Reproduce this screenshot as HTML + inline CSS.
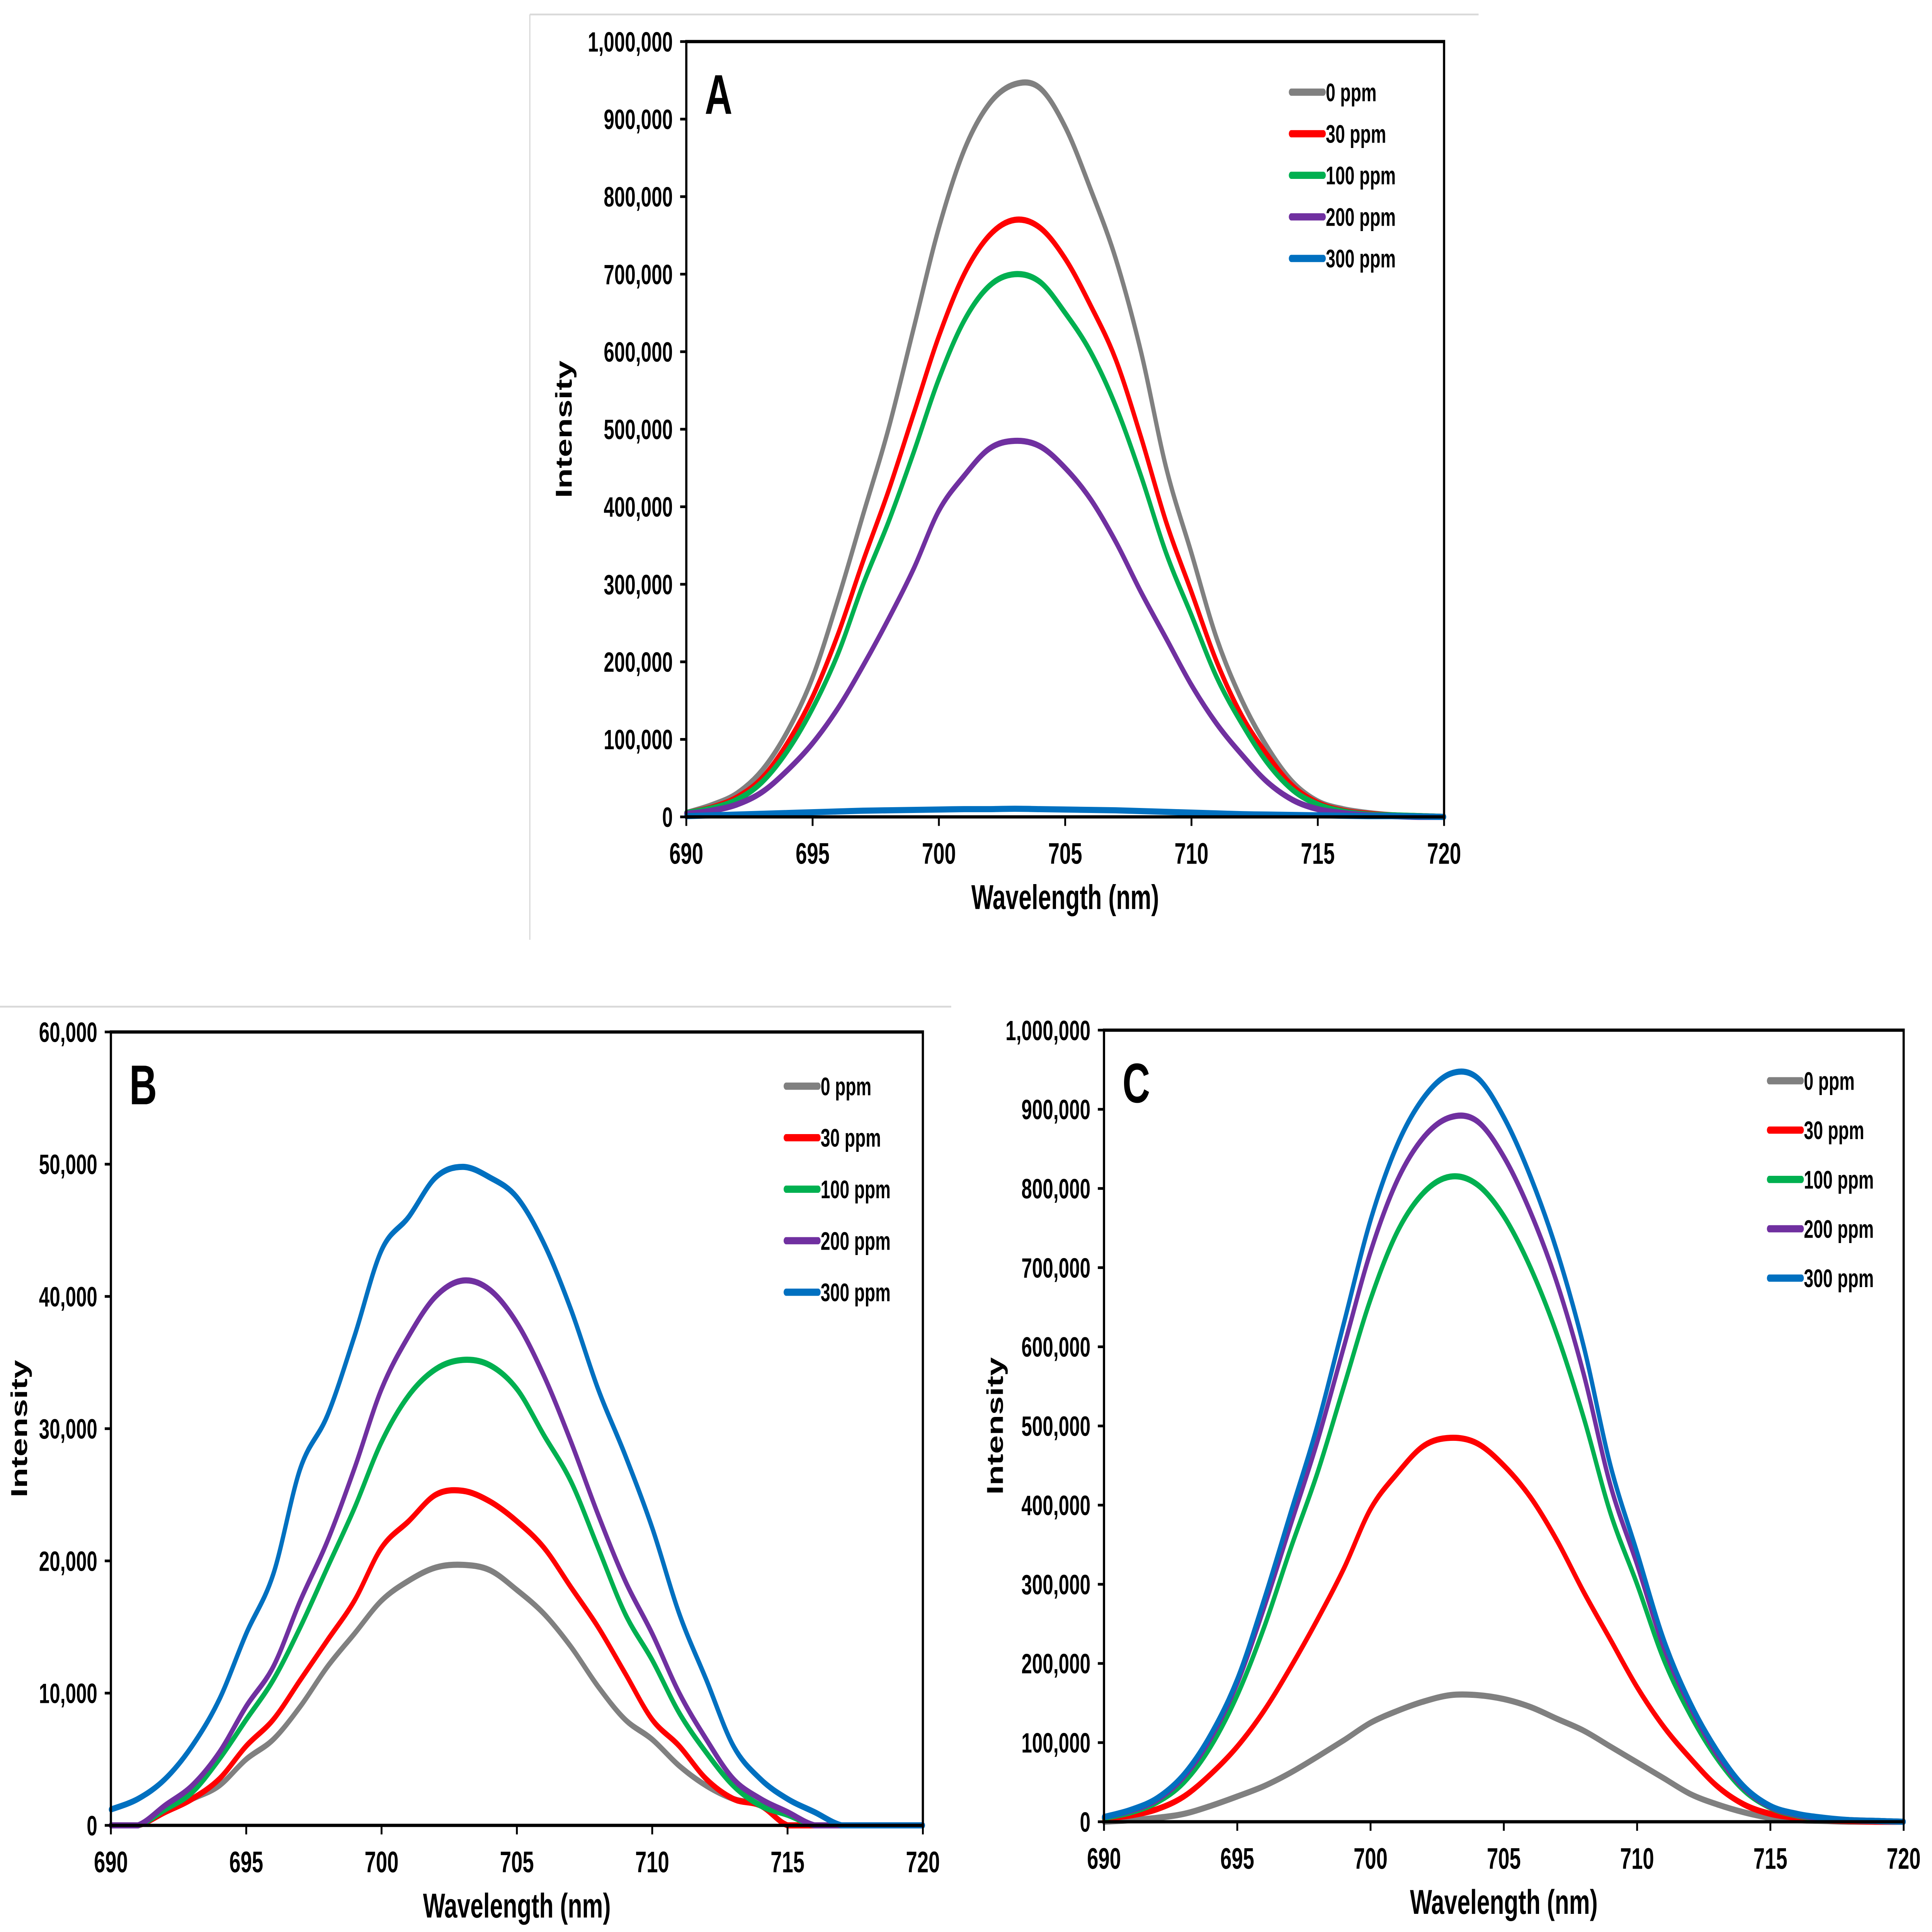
<!DOCTYPE html>
<html><head><meta charset="utf-8">
<style>
html,body{margin:0;padding:0;background:#fff;overflow:hidden;width:100vw;height:100vh;}
svg{display:block;width:100vw;height:100vh;}
text{font-family:"Liberation Sans",Arial,sans-serif;font-weight:bold;fill:#000;}
</style></head>
<body>
<svg id="fig" viewBox="0 0 1568 1069" preserveAspectRatio="none" xmlns="http://www.w3.org/2000/svg">
<line x1="430" y1="8" x2="1200" y2="8" stroke="#d9d9d9" stroke-width="1"/>
<line x1="430" y1="8" x2="430" y2="520" stroke="#d9d9d9" stroke-width="1"/>
<line x1="0" y1="557" x2="772" y2="557" stroke="#d9d9d9" stroke-width="1"/>
</svg>
<script>
const wavelengths = [690,691,692,693,694,695,696,697,698,699,700,701,702,703,704,705,706,707,708,709,710,711,712,713,714,715,716,717,718,719,720];
const seriesLabels = ["0 ppm","30 ppm","100 ppm","200 ppm","300 ppm"];
const seriesColors = ["#808080","#FF0000","#00B050","#7030A0","#0070C0"];
const xTicks = [690,695,700,705,710,715,720];

// Panel A
const a0 = [5000,15000,30000,60000,110000,180000,280000,390000,500000,630000,760000,860000,920000,945000,940000,890000,810000,720000,600000,450000,340000,230000,150000,90000,45000,20000,10000,5000,2000,1000,0];
const a30 = [5000,12000,25000,50000,95000,155000,235000,330000,420000,520000,620000,700000,750000,770000,760000,720000,660000,590000,490000,380000,290000,200000,130000,80000,40000,18000,8000,4000,2000,1000,0];
const a100 = [5000,11000,22000,45000,85000,140000,210000,300000,380000,470000,565000,640000,685000,700000,690000,650000,600000,530000,440000,340000,260000,180000,120000,70000,35000,16000,7000,3000,2000,1000,0];
const a200 = [4000,8000,16000,32000,60000,95000,140000,195000,255000,320000,395000,440000,475000,485000,478000,450000,410000,355000,290000,230000,170000,120000,80000,45000,22000,10000,5000,2000,1000,0,0];
const a300 = [1000,2000,3000,4000,5000,6000,7000,8000,8500,9000,9500,10000,10000,10500,10000,9500,9000,8500,7500,6500,5500,4500,3500,3000,2500,2000,1500,1000,1000,500,0];
const aYTicks = [0,100000,200000,300000,400000,500000,600000,700000,800000,900000,1000000];

// Panel B
const b0 = [0,0,1000,2000,3000,5000,6500,9000,12000,14500,17000,18500,19500,19700,19300,17800,16000,13500,10500,8000,6500,4500,3000,2000,1500,0,0,0,0,0,0];
const b30 = [0,0,1000,2000,3500,6000,8000,11000,14000,17000,21000,23000,25000,25300,24500,23000,21000,18000,15000,11500,8000,6000,3500,2000,1500,0,0,0,0,0,0];
const b100 = [0,0,1200,2500,5000,8000,11000,15000,19500,24000,29000,32500,34500,35200,34800,33000,29500,26000,21000,16000,12500,8500,5500,3000,1500,800,0,0,0,0,0];
const b200 = [0,0,1500,3000,5500,9000,12000,17000,21500,27000,33000,37000,40000,41200,40500,38000,34000,29000,23500,18500,14500,10000,6500,3500,2000,1000,0,0,0,0,0];
const b300 = [1200,2000,3500,6000,9500,14500,19000,27000,31000,37000,43500,46000,49000,49800,49000,47500,44000,39000,33000,28000,22500,16000,11000,6000,3500,2000,1000,0,0,0,0];
const bYTicks = [0,10000,20000,30000,40000,50000,60000];

// Panel C
const c0 = [0,2000,5000,10000,20000,32000,45000,62000,82000,103000,125000,140000,152000,160000,160000,155000,145000,130000,115000,95000,75000,55000,35000,22000,12000,5000,2000,1000,0,0,0];
const c30 = [4000,8000,16000,32000,60000,95000,140000,195000,255000,320000,395000,440000,475000,485000,478000,450000,410000,355000,290000,230000,170000,120000,80000,45000,22000,10000,5000,2000,1000,0,0];
const c100 = [5000,12000,25000,50000,95000,160000,245000,345000,440000,550000,660000,745000,795000,815000,805000,765000,700000,615000,510000,390000,300000,205000,135000,80000,40000,18000,8000,4000,2000,1000,0];
const c200 = [6000,14000,28000,57000,105000,175000,270000,375000,480000,600000,720000,810000,865000,890000,885000,840000,770000,680000,565000,425000,325000,220000,145000,85000,43000,19000,9000,4000,2000,1000,0];
const c300 = [6000,15000,30000,60000,110000,180000,280000,390000,500000,630000,760000,855000,915000,945000,940000,890000,815000,720000,600000,450000,340000,230000,150000,90000,45000,20000,10000,5000,2000,1000,0];
const cYTicks = [0,100000,200000,300000,400000,500000,600000,700000,800000,900000,1000000];

const NS = "http://www.w3.org/2000/svg";
const svg = document.getElementById("fig");
function mk(tag, attrs, parent){
  const e = document.createElementNS(NS, tag);
  for (const k in attrs) e.setAttribute(k, attrs[k]);
  (parent||svg).appendChild(e);
  return e;
}
function fmt(v){ return v.toLocaleString("en-US"); }
function smoothPath(pts, ymaxPix){
  const cl = y => Math.min(y, ymaxPix);
  let d = "M" + pts[0][0].toFixed(2) + "," + pts[0][1].toFixed(2);
  for (let i = 0; i < pts.length - 1; i++){
    const p0 = pts[Math.max(i-1,0)], p1 = pts[i], p2 = pts[i+1], p3 = pts[Math.min(i+2,pts.length-1)];
    const c1x = p1[0] + (p2[0]-p0[0])/6, c1y = cl(p1[1] + (p2[1]-p0[1])/6);
    const c2x = p2[0] - (p3[0]-p1[0])/6, c2y = cl(p2[1] - (p3[1]-p1[1])/6);
    d += " C" + c1x.toFixed(2) + "," + c1y.toFixed(2) + " " + c2x.toFixed(2) + "," + c2y.toFixed(2) + " " + p2[0].toFixed(2) + "," + p2[1].toFixed(2);
  }
  return d;
}

function panel(id, letter, x0, x1, y0, y1, ymax, yTicks, series, legX, legY, legStep, ylabX){
  const g = mk("g", {});
  
  
  const sx = v => x0 + (v - 690) / 30 * (x1 - x0);
  const sy = v => y0 - v / ymax * (y0 - y1);
  series.forEach((vals, i) => {
    const pts = vals.map((v, k) => [sx(wavelengths[k]), sy(v)]);
    const p = mk("path", {d: smoothPath(pts, y0), fill: "none", stroke: seriesColors[i], "stroke-width": 3.4, "stroke-linejoin": "round", "stroke-linecap": "round"}, g);
    
    
  });
  const r = mk("rect", {x: x0, y: y1, width: x1 - x0, height: y0 - y1, fill: "none", stroke: "#000", "stroke-width": 1.8}, g);
  
  
  yTicks.forEach(t => {
    const y = sy(t);
    const tk = mk("line", {x1: x0 - 5, x2: x0, y1: y, y2: y, stroke: "#000", "stroke-width": 1.5}, g);
    
    
    const tx = mk("text", {x: x0 - 11, y: y + 5.5, "text-anchor": "end", "font-size": 15.5}, g);
    tx.textContent = fmt(t);
    
    
  });
  xTicks.forEach(t => {
    const x = sx(t);
    const tk = mk("line", {x1: x, x2: x, y1: y0, y2: y0 + 5, stroke: "#000", "stroke-width": 1.5}, g);
    
    
    const tx = mk("text", {x: x, y: y0 + 26, "text-anchor": "middle", "font-size": 16.5}, g);
    tx.textContent = t;
    
    
  });
  const xt = mk("text", {x: (x0 + x1) / 2, y: y0 + 51, "text-anchor": "middle", "font-size": 19}, g);
  xt.textContent = "Wavelength (nm)";
  
  
  const ym = (y0 + y1) / 2;
  const yt = mk("text", {x: ylabX, y: ym, "text-anchor": "middle", "font-size": 18.5, transform: "rotate(-90 " + ylabX + " " + ym + ")"}, g);
  yt.textContent = "Intensity";
  
  
  const lt = mk("text", {x: x0 + 15, y: y1 + 40, "font-size": 31}, g);
  lt.textContent = letter;
  
  
  seriesLabels.forEach((lab, i) => {
    const y = legY + i * legStep;
    const ll = mk("line", {x1: legX, x2: legX + 26, y1: y, y2: y, stroke: seriesColors[i], "stroke-width": 4, "stroke-linecap": "round"}, g);
    
    
    const lx = mk("text", {x: legX + 28, y: y + 5, "font-size": 14}, g);
    lx.textContent = lab;
    
    
  });
}
panel("a", "A", 557, 1172, 452, 23, 1000000, aYTicks, [a0, a30, a100, a200, a300], 1048, 51, 23, 464);
panel("b", "B", 90, 749, 1010, 571, 60000, bYTicks, [b0, b30, b100, b200, b300], 638, 601, 28.5, 22);
panel("c", "C", 896, 1545, 1008, 570, 1000000, cYTicks, [c0, c30, c100, c200, c300], 1436, 598, 27.3, 814);
</script>
</body></html>
